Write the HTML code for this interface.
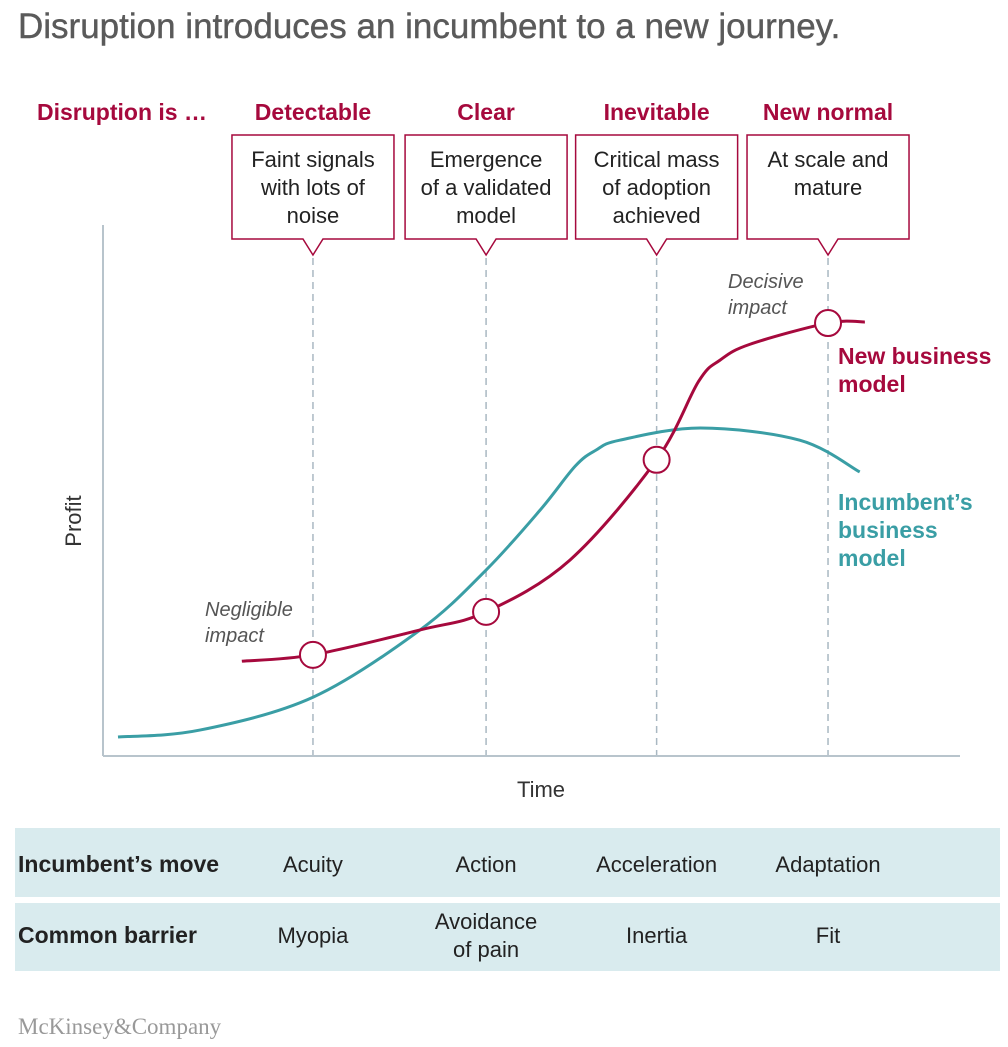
<!DOCTYPE html>
<html><head><meta charset="utf-8"><style>
body{margin:0;background:#fff;width:1008px;height:1047px;overflow:hidden;font-family:"Liberation Sans",Arial,sans-serif}
svg{position:absolute;left:0;top:0}
</style></head><body>
<svg width="1008" height="1047" id="chart">
<text x="18" y="38" font-size="35" fill="#5a5a5a" stroke="#5a5a5a" stroke-width="0.4">Disruption introduces an incumbent to a new journey.</text>
<text x="37" y="120" font-size="23" font-weight="bold" fill="#a6093d">Disruption is …</text>
<g id="stages"></g>
<line x1="103" y1="225" x2="103" y2="756" stroke="#b8c4cc" stroke-width="2"/>
<line x1="103" y1="756" x2="960" y2="756" stroke="#b8c4cc" stroke-width="2"/>
<text x="81" y="521" font-size="22" fill="#333" transform="rotate(-90 81 521)" text-anchor="middle">Profit</text>
<text x="541" y="797" font-size="22" fill="#333" text-anchor="middle">Time</text>
<g id="marks"></g>
<text x="205" y="616" font-size="20" font-style="italic" fill="#555">Negligible</text>
<text x="205" y="642" font-size="20" font-style="italic" fill="#555">impact</text>
<text x="728" y="288" font-size="20" font-style="italic" fill="#555">Decisive</text>
<text x="728" y="314" font-size="20" font-style="italic" fill="#555">impact</text>
<g font-size="23" font-weight="bold" fill="#a6093d">
<text x="838" y="364">New business</text><text x="838" y="392">model</text></g>
<g font-size="23" font-weight="bold" fill="#3a9ea5">
<text x="838" y="510">Incumbent’s</text><text x="838" y="538">business</text><text x="838" y="566">model</text></g>
<rect x="15" y="828" width="985" height="69" fill="#d9ebee"/>
<rect x="15" y="903" width="985" height="68" fill="#d9ebee"/>
<text x="18" y="872" font-size="23" font-weight="bold" fill="#222">Incumbent’s move</text>
<text x="18" y="943" font-size="23" font-weight="bold" fill="#222">Common barrier</text>
<g id="table" font-size="22" fill="#222" text-anchor="middle"></g>
<text x="18" y="1034" font-size="23" fill="#999" font-family="Liberation Serif, serif">McKinsey&amp;Company</text>
</svg>
<script>
const stageNames=["Detectable","Clear","Inevitable","New normal"];
const stageTimes=[24.5,44.7,64.6,84.6];
const stageBox=[["Faint signals","with lots of","noise"],["Emergence","of a validated","model"],["Critical mass","of adoption","achieved"],["At scale and","mature"]];
const moves=["Acuity","Action","Acceleration","Adaptation"];
const barriers=[["Myopia"],["Avoidance","of pain"],["Inertia"],["Fit"]];
const incTime=[1.75,11.3,24.5,37,44.7,51,55.1,57.5,60.3,69.7,81.3,88.3];
const incProfit=[3.4,4.7,10.9,23.6,34.9,46.2,54.5,57.5,59.4,61.7,59.4,53.4];
const newTime=[16.2,24.5,37,44.7,54.5,64.6,69.5,72,75.5,84.6,88.9];
const newProfit=[17.7,18.9,23.6,27,36.8,55.7,70.5,74.5,77.5,81.5,81.7];
const markerProfit=[18.9,27,55.7,81.5];
const NS="http://www.w3.org/2000/svg";
const xS=t=>103+t*8.57, yS=p=>755-p*5.3;
function mk(tag,attrs,parent){const e=document.createElementNS(NS,tag);for(const k in attrs)e.setAttribute(k,attrs[k]);parent.appendChild(e);return e;}
function smooth(pts){let d=`M${pts[0][0]},${pts[0][1]}`;for(let i=0;i<pts.length-1;i++){const p0=pts[i-1]||pts[i],p1=pts[i],p2=pts[i+1],p3=pts[i+2]||p2;d+=` C${p1[0]+(p2[0]-p0[0])/6},${p1[1]+(p2[1]-p0[1])/6} ${p2[0]-(p3[0]-p1[0])/6},${p2[1]-(p3[1]-p1[1])/6} ${p2[0]},${p2[1]}`;}return d;}
const st=document.getElementById('stages'),mg=document.getElementById('marks'),tb=document.getElementById('table');
stageTimes.forEach((t,i)=>{
 const x=xS(t);
 const h=mk('text',{x:x,y:120,'font-size':23,'font-weight':'bold',fill:'#a6093d','text-anchor':'middle'},st);h.textContent=stageNames[i];
 
 
 const b=mk('path',{d:`M${x-81},135 H${x+81} V239 H${x+10} L${x},255 L${x-10},239 H${x-81} Z`,fill:'#fff',stroke:'#a6093d','stroke-width':1.5},st);
 
 
 stageBox[i].forEach((s,j)=>{const tx=mk('text',{x:x,y:167+j*28,'font-size':22,fill:'#222','text-anchor':'middle'},st);tx.textContent=s;
  
  });
 const l=mk('line',{x1:x,y1:258,x2:x,y2:755,stroke:'#a9b8c2','stroke-width':1.5,'stroke-dasharray':'7,5'},mg);
 
 
 const m=mk('text',{x:x,y:872},tb);m.textContent=moves[i];
 
 
 const bl=barriers[i];
 bl.forEach((s,j)=>{const tx=mk('text',{x:x,y:(bl.length==1?943:929)+j*28},tb);tx.textContent=s;
  
  });
});
const inc=mk('path',{d:smooth(incTime.map((t,i)=>[xS(t),yS(incProfit[i])])),fill:'none',stroke:'#3a9ea5','stroke-width':3},mg);


const nw=mk('path',{d:smooth(newTime.map((t,i)=>[xS(t),yS(newProfit[i])])),fill:'none',stroke:'#a6093d','stroke-width':3},mg);


stageTimes.forEach((t,i)=>{const c=mk('circle',{cx:xS(t),cy:yS(markerProfit[i]),r:13,fill:'#fff',stroke:'#a6093d','stroke-width':2},mg);
 
 });
</script>
</body></html>
